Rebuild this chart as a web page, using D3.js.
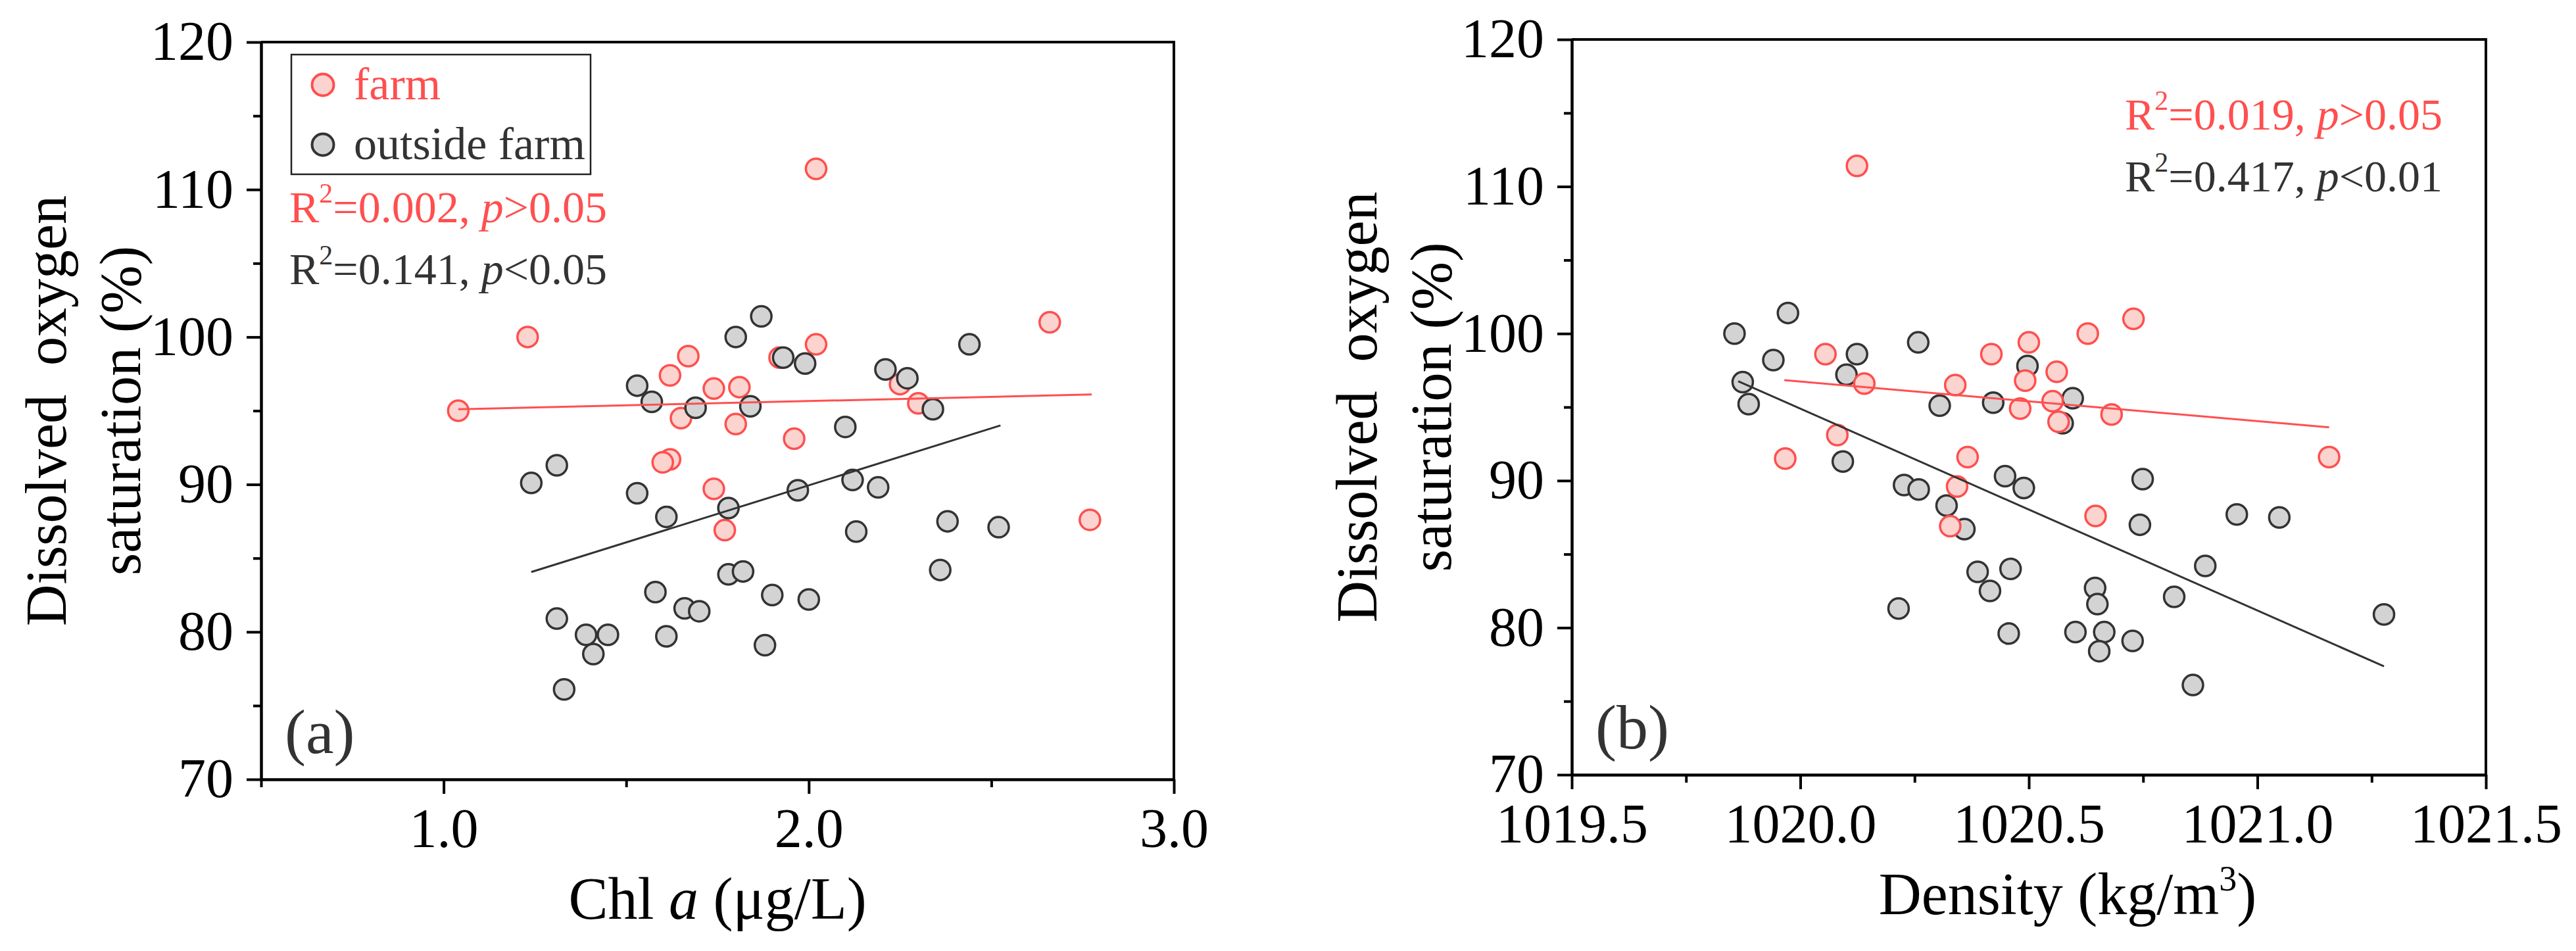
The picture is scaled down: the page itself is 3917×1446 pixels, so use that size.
<!DOCTYPE html>
<html>
<head>
<meta charset="utf-8">
<script src="https://cdn.jsdelivr.net/npm/d3@7"></script>
<style>
  body { margin: 0; background: #fff; }
  svg text { font-family: "Liberation Serif", "Times New Roman", serif; }
</style>
</head>
<body>
<div id="chart"></div>
<script>
// ---- data ----
// panel (a): Chl a (ug/L) vs DO saturation (%)
const chlFarm = [1.04, 1.23, 2.02, 2.66, 2.02, 1.92, 1.67, 1.62, 1.74, 1.81, 2.25, 2.30, 1.65, 1.80, 1.96, 1.62, 1.60, 1.74, 1.77, 2.77];
const doFarmA = [95.0, 100.0, 111.4, 101.0, 99.5, 98.6, 98.7, 97.4, 96.5, 96.6, 96.8, 95.5, 94.5, 94.1, 93.1, 91.7, 91.5, 89.7, 86.9, 87.6];
const chlOut = [1.87, 1.80, 1.93, 1.99, 2.44, 2.21, 2.27, 1.53, 1.57, 1.69, 1.84, 2.34, 2.10, 1.31, 1.24, 1.53, 1.97, 2.12, 2.19, 1.61,
                1.78, 2.13, 2.38, 2.52, 1.78, 1.82, 2.36, 1.58, 1.90, 2.00, 1.66, 1.70, 1.31, 1.39, 1.45, 1.61, 1.41, 1.88, 1.33];
const doOutA = [101.4, 100.0, 98.6, 98.2, 99.5, 97.8, 97.2, 96.7, 95.6, 95.2, 95.3, 95.1, 93.9, 91.3, 90.1, 89.4, 89.6, 90.3, 89.8, 87.8,
                88.4, 86.8, 87.5, 87.1, 83.9, 84.1, 84.2, 82.7, 82.5, 82.2, 81.6, 81.4, 80.9, 79.8, 79.8, 79.7, 78.5, 79.1, 76.1];

// panel (b): density (kg/m3) vs DO saturation (%)
const densFarm = [1020.124, 1020.729, 1020.629, 1020.500, 1020.055, 1020.418, 1020.561, 1020.492, 1020.140, 1020.339, 1020.552,
                  1020.481, 1020.565, 1020.681, 1020.081, 1019.967, 1020.366, 1021.157, 1020.343, 1020.646, 1020.328];
const doFarmB = [111.4, 101.0, 100.0, 99.4, 98.6, 98.6, 97.4, 96.8, 96.6, 96.5, 95.4, 94.9, 94.0, 94.5, 93.1, 91.5, 91.6, 91.6, 89.6, 87.6, 86.9];
const densOut = [1019.973, 1019.856, 1020.258, 1020.124, 1019.941, 1020.497, 1020.101, 1019.874, 1019.887, 1020.305, 1020.422, 1020.596,
                 1020.574, 1020.093, 1020.749, 1020.448, 1020.227, 1020.259, 1020.489, 1020.320, 1020.359, 1020.743, 1020.955, 1021.048,
                 1020.388, 1020.460, 1020.886, 1020.415, 1020.645, 1020.650, 1020.818, 1020.215, 1021.277, 1020.456, 1020.602, 1020.665,
                 1020.727, 1020.654, 1020.859];
const doOutB = [101.4, 100.0, 99.4, 98.6, 98.2, 97.8, 97.2, 96.7, 95.2, 95.1, 95.3, 95.6, 93.9, 91.3, 90.1, 90.3, 89.7, 89.4, 89.5, 88.3,
                86.7, 87.0, 87.7, 87.5, 83.8, 84.0, 84.2, 82.5, 82.7, 81.6, 82.1, 81.3, 80.9, 79.6, 79.7, 79.7, 79.1, 78.4, 76.1];

// fitted lines, end points as drawn
const fitFarmA = [[1.04, 95.1], [2.775, 96.1]];
const fitOutA  = [[1.24, 84.06], [2.525, 94.0]];
const fitFarmB = [[1019.965, 96.83], [1021.157, 93.62]];
const fitOutB  = [[1019.864, 96.76], [1021.277, 77.37]];

// statistics text
const statsA = [["0.002", ">0.05"], ["0.141", "<0.05"]];
const statsB = [["0.019", ">0.05"], ["0.417", "<0.01"]];

// axes
const yDomain = [70, 120];
const yTicks = [70, 80, 90, 100, 110, 120];
const yMinor = [75, 85, 95, 105, 115];
const xDomainA = [0.5, 3.0];
const xTicksA = [1.0, 2.0, 3.0];
const xMinorA = [0.5, 1.5, 2.5];
const xDomainB = [1019.5, 1021.5];
const xTicksB = [1019.5, 1020.0, 1020.5, 1021.0, 1021.5];
const xMinorB = [1019.75, 1020.25, 1020.75, 1021.25];

const seriesNames = ["farm", "outside farm"];

// ---- style ----
const RED = "#ff4f4f", RED_FILL = "#fbd3cf";
const GREY = "#333333", GREY_FILL = "#d3d3d3";

const W = 3917, H = 1446;
const svg = d3.select("#chart").append("svg")
    .attr("width", W).attr("height", H)
    .style("display", "block");

function drawPanel(conf) {
    const x = d3.scaleLinear().domain(conf.xDomain).range([conf.left, conf.right]);
    const y = d3.scaleLinear().domain(yDomain).range([conf.bottom, conf.top]);
    const g = svg.append("g");

    // frame (top & right)
    g.append("path")
        .attr("d", `M${conf.left},${conf.top}H${conf.right}V${conf.bottom}`)
        .attr("fill", "none").attr("stroke", "#000").attr("stroke-width", 4);

    // x axis
    const xMin = g.append("g").attr("transform", `translate(0,${conf.bottom})`)
        .call(d3.axisBottom(x).tickValues(conf.xMinor).tickSize(12).tickSizeOuter(0).tickFormat(""));
    xMin.select(".domain").remove();
    const xAx = g.append("g").attr("transform", `translate(0,${conf.bottom})`)
        .call(d3.axisBottom(x).tickValues(conf.xTicks).tickSize(22).tickSizeOuter(0)
              .tickPadding(21).tickFormat(d3.format(".1f")));

    // y axis
    const yMin = g.append("g").attr("transform", `translate(${conf.left},0)`)
        .call(d3.axisLeft(y).tickValues(yMinor).tickSize(12).tickSizeOuter(0).tickFormat(""));
    yMin.select(".domain").remove();
    const yAx = g.append("g").attr("transform", `translate(${conf.left},0)`)
        .call(d3.axisLeft(y).tickValues(yTicks).tickSize(22).tickSizeOuter(0).tickPadding(20));

    [xAx, yAx].forEach(a => {
        a.select(".domain").attr("stroke-width", 4.5);
        a.selectAll("text").attr("font-size", 84).attr("fill", "#000")
            .style("font-family", '"Liberation Serif", serif');
    });
    g.selectAll(".tick line").attr("stroke-width", 4);

    // axis titles
    const xt = g.append("text")
        .attr("x", (conf.left + conf.right) / 2 + conf.xTitleShift)
        .attr("y", conf.bottom + 212)
        .attr("text-anchor", "middle").attr("font-size", 90).attr("fill", "#000");
    conf.xTitle(xt);

    const yt = g.append("g")
        .attr("transform", `translate(${conf.left - 297},${(conf.top + conf.bottom) / 2}) rotate(-90)`);
    yt.append("text").attr("text-anchor", "middle").attr("font-size", 88).attr("fill", "#000")
        .attr("xml:space", "preserve").style("white-space", "pre")
        .text("Dissolved  oxygen");
    yt.append("text").attr("y", 113).attr("text-anchor", "middle").attr("font-size", 88).attr("fill", "#000")
        .text("saturation (%)");

    // points
    const sets = [
        { xs: conf.xFarm, ys: conf.yFarm, fill: RED_FILL, stroke: RED },
        { xs: conf.xOut, ys: conf.yOut, fill: GREY_FILL, stroke: GREY }
    ];
    const order = conf.farmOnTop ? [1, 0] : [0, 1];
    order.forEach(i => {
        const s = sets[i];
        g.append("g").selectAll("circle")
            .data(d3.zip(s.xs, s.ys))
            .enter().append("circle")
            .attr("cx", d => x(d[0]))
            .attr("cy", d => y(d[1]))
            .attr("r", 15.5)
            .attr("fill", s.fill)
            .attr("stroke", s.stroke)
            .attr("stroke-width", 3.5);
    });

    // fit lines
    const line = d3.line().x(d => x(d[0])).y(d => y(d[1]));
    g.append("path").attr("d", line(conf.fitFarm)).attr("fill", "none")
        .attr("stroke", RED).attr("stroke-width", 3);
    g.append("path").attr("d", line(conf.fitOut)).attr("fill", "none")
        .attr("stroke", GREY).attr("stroke-width", 3);

    // stats text
    conf.stats.forEach((st, i) => {
        const t = g.append("text")
            .attr("x", conf.statX).attr("y", conf.statY + i * 94)
            .attr("font-size", 68)
            .attr("fill", i === 0 ? RED : GREY);
        t.append("tspan").text("R");
        t.append("tspan").attr("font-size", 42).attr("dy", -30).text("2");
        t.append("tspan").attr("dy", 30).text("=" + st[0] + ", ");
        t.append("tspan").attr("font-style", "italic").text("p");
        t.append("tspan").text(st[1]);
    });

    // panel label
    g.append("text")
        .attr("x", conf.left + 36).attr("y", conf.bottom - 40)
        .attr("font-size", 96).attr("fill", GREY)
        .text(conf.label);

    return { g, x, y };
}

const pa = drawPanel({
    left: 397, right: 1785, top: 64, bottom: 1185,
    xDomain: xDomainA, xTicks: xTicksA, xMinor: xMinorA,
    xFarm: chlFarm, yFarm: doFarmA, xOut: chlOut, yOut: doOutA,
    fitFarm: fitFarmA, fitOut: fitOutA,
    stats: statsA, statX: 440, statY: 338,
    farmOnTop: false, label: "(a)", xTitleShift: 0,
    xTitle: t => {
        t.append("tspan").text("Chl ");
        t.append("tspan").attr("font-style", "italic").text("a");
        t.append("tspan").text(" (μg/L)");
    }
});

// legend (panel a)
const lg = pa.g.append("g");
lg.append("rect").attr("x", 443).attr("y", 83).attr("width", 455).attr("height", 182)
    .attr("fill", "#fff").attr("stroke", "#222").attr("stroke-width", 2.5);
lg.lower(); // keep it behind the points
pa.g.select("path").lower();
const legendItems = lg.selectAll("g.item")
    .data(seriesNames)
    .enter().append("g").attr("class", "item")
    .attr("transform", (d, i) => `translate(491,${129 + i * 91})`);
legendItems.append("circle").attr("r", 16.5)
    .attr("fill", (d, i) => i === 0 ? RED_FILL : GREY_FILL)
    .attr("stroke", (d, i) => i === 0 ? RED : GREY)
    .attr("stroke-width", 4);
legendItems.append("text").attr("x", 47).attr("y", 22)
    .attr("font-size", 70)
    .attr("fill", (d, i) => i === 0 ? RED : GREY)
    .text(d => d);

drawPanel({
    left: 2390, right: 3780, top: 60, bottom: 1178,
    xDomain: xDomainB, xTicks: xTicksB, xMinor: xMinorB,
    xFarm: densFarm, yFarm: doFarmB, xOut: densOut, yOut: doOutB,
    fitFarm: fitFarmB, fitOut: fitOutB,
    stats: statsB, statX: 3231, statY: 197,
    farmOnTop: true, label: "(b)", xTitleShift: 59,
    xTitle: t => {
        t.append("tspan").text("Density (kg/m");
        t.append("tspan").attr("font-size", 54).attr("dy", -36).text("3");
        t.append("tspan").attr("dy", 36).text(")");
    }
});
</script>
</body>
</html>
